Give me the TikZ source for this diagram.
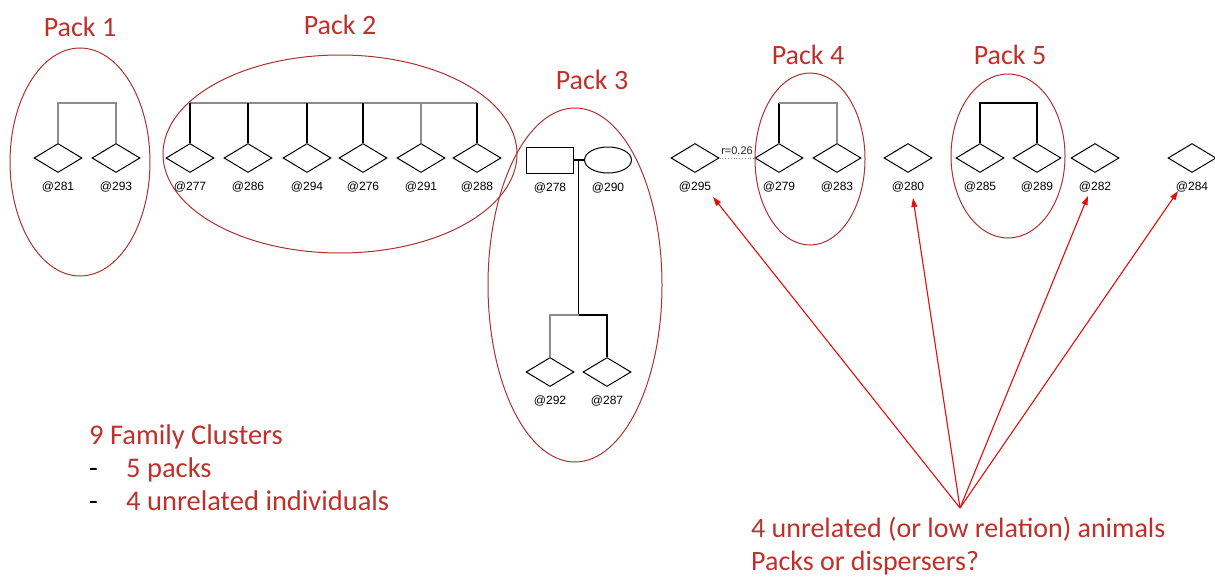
\documentclass[tikz,border=0pt]{standalone}
\usepackage{fontspec}
\setmainfont{Carlito}
\newfontfamily\idfont{Liberation Sans}
\usetikzlibrary{shapes.geometric,arrows.meta,positioning,calc}
\definecolor{packred}{HTML}{C0302B}
\definecolor{ringred}{HTML}{B03030}
\definecolor{arrowred}{HTML}{E31010}
\definecolor{linegray}{HTML}{8C8C8C}

\begin{document}
\begin{tikzpicture}[
  x=1pt,y=-1pt,
  wolf/.style={draw,diamond,minimum width=48pt,minimum height=29pt,inner sep=0pt,line width=1pt},
  male/.style={draw,rectangle,minimum width=47pt,minimum height=26pt,inner sep=0pt,line width=1pt},
  female/.style={draw,ellipse,minimum width=47pt,minimum height=26pt,inner sep=0pt,line width=1pt},
  tag/.style={font=\idfont\fontsize{12}{12}\selectfont,inner sep=1pt},
  packlbl/.style={text=packred,font=\fontsize{28}{32}\selectfont,inner sep=0pt},
  note/.style={text=packred,font=\fontsize{28.5}{33}\selectfont,align=left,inner sep=0pt},
  kin/.style={line width=1.2pt},
  kingray/.style={line width=1.2pt,draw=linegray},
  bond/.style={line width=2.4pt},
  ring/.style={draw=ringred,line width=1pt},
  pointer/.style={-{Triangle[length=9pt,width=6pt]},draw=arrowred,fill=arrowred,line width=1.1pt}
]
  \useasboundingbox (0,0) rectangle (1215,578);

  % individuals in the top row
  \foreach \id/\x in {281/58,293/116,277/190,286/248,294/307,276/363,291/421,288/477,
                      295/695,279/779,283/837,280/908,285/980,289/1037,282/1095,284/1192}{
    \node[wolf] (d\id) at (\x,158) {};
    \node[tag,below=8pt of d\id] (l\id) {@\id};
  }
  % pack 3 parents and offspring
  \node[male] (d278) at (550,160) {};
  \node[female] (d290) at (608,160) {};
  \node[tag,below=8pt of d278] (l278) {@278};
  \node[tag,below=8pt of d290] (l290) {@290};
  \foreach \id/\x in {292/550,287/607}{
    \node[wolf] (d\id) at (\x,372) {};
    \node[tag,below=8pt of d\id] (l\id) {@\id};
  }

  % pack 1
  \draw[kingray] (d281.north) -- ++(0,-40) -| (d293.north);
  % pack 2
  \draw[kingray] ($(d277.north)+(0,-40)$) -- ($(d288.north)+(0,-40)$);
  \foreach \id in {277,286,294,276,288}
    \draw[kin] (d\id.north) -- ++(0,-40);
  \draw[kingray] (d291.north) -- ++(0,-40);
  % pack 3
  \coordinate (mate) at ($(d278.east)!0.45!(d290.west)$);
  \coordinate (sibs) at ($(mate |- d292.north)+(0,-42)$);
  \draw[kin] (d278.east) -- (d290.west);
  \draw[kin] (mate) -- (sibs);
  \draw[kingray] (d292.north) -- ++(0,-42) -- (sibs);
  \draw[kin] (sibs) -| (d287.north);
  % pack 4
  \draw[kin] (d279.north) -- ++(0,-40);
  \draw[kingray] ($(d279.north)+(0,-40)$) -| (d283.north);
  % pack 5
  \draw[bond] (d285.north) -- ++(0,-40) -| (d289.north);
  % relatedness between 295 and 279
  \draw[linegray,dotted,line width=0.8pt] (d295.east) -- node[above=2pt,tag,font=\idfont\fontsize{11}{11}\selectfont,text=black!85] (rel) {r=0.26} (d279.west);

  % pack outlines
  \draw[ring] (80,162) ellipse [x radius=70,y radius=114];
  \draw[ring] (340,154) ellipse [x radius=177,y radius=99];
  \draw[ring] (575,285) ellipse [x radius=87,y radius=177];
  \draw[ring] (810,159) ellipse [x radius=55,y radius=86];
  \draw[ring] (1008,156) ellipse [x radius=57,y radius=82];
  \node[packlbl] (p1) at (80,27) {Pack 1};
  \node[packlbl] (p2) at (340,25) {Pack 2};
  \node[packlbl] (p3) at (592,80) {Pack 3};
  \node[packlbl] (p4) at (808,55) {Pack 4};
  \node[packlbl] (p5) at (1010,55) {Pack 5};

  % notes
  \node[note,anchor=west] (summary) at (89,468) {9 Family Clusters\\
    \makebox[37pt][l]{\color{black}-}5 packs\\
    \makebox[37pt][l]{\color{black}-}4 unrelated individuals};
  \node[note,anchor=west,font=\fontsize{28}{33}\selectfont] (question) at (751,546) {4 unrelated (or low relation) animals\\Packs or dispersers?};

  % arrows to unrelated animals
  \coordinate (hub) at (960,508);
  \coordinate (t295) at (713,197);
  \coordinate (t280) at (913,198);
  \coordinate (t282) at (1088,196);
  \coordinate (t284) at (1178,191);
  \foreach \t in {t295,t280,t282,t284}
    \draw[pointer] (hub) -- (\t);
\end{tikzpicture}
\end{document}
